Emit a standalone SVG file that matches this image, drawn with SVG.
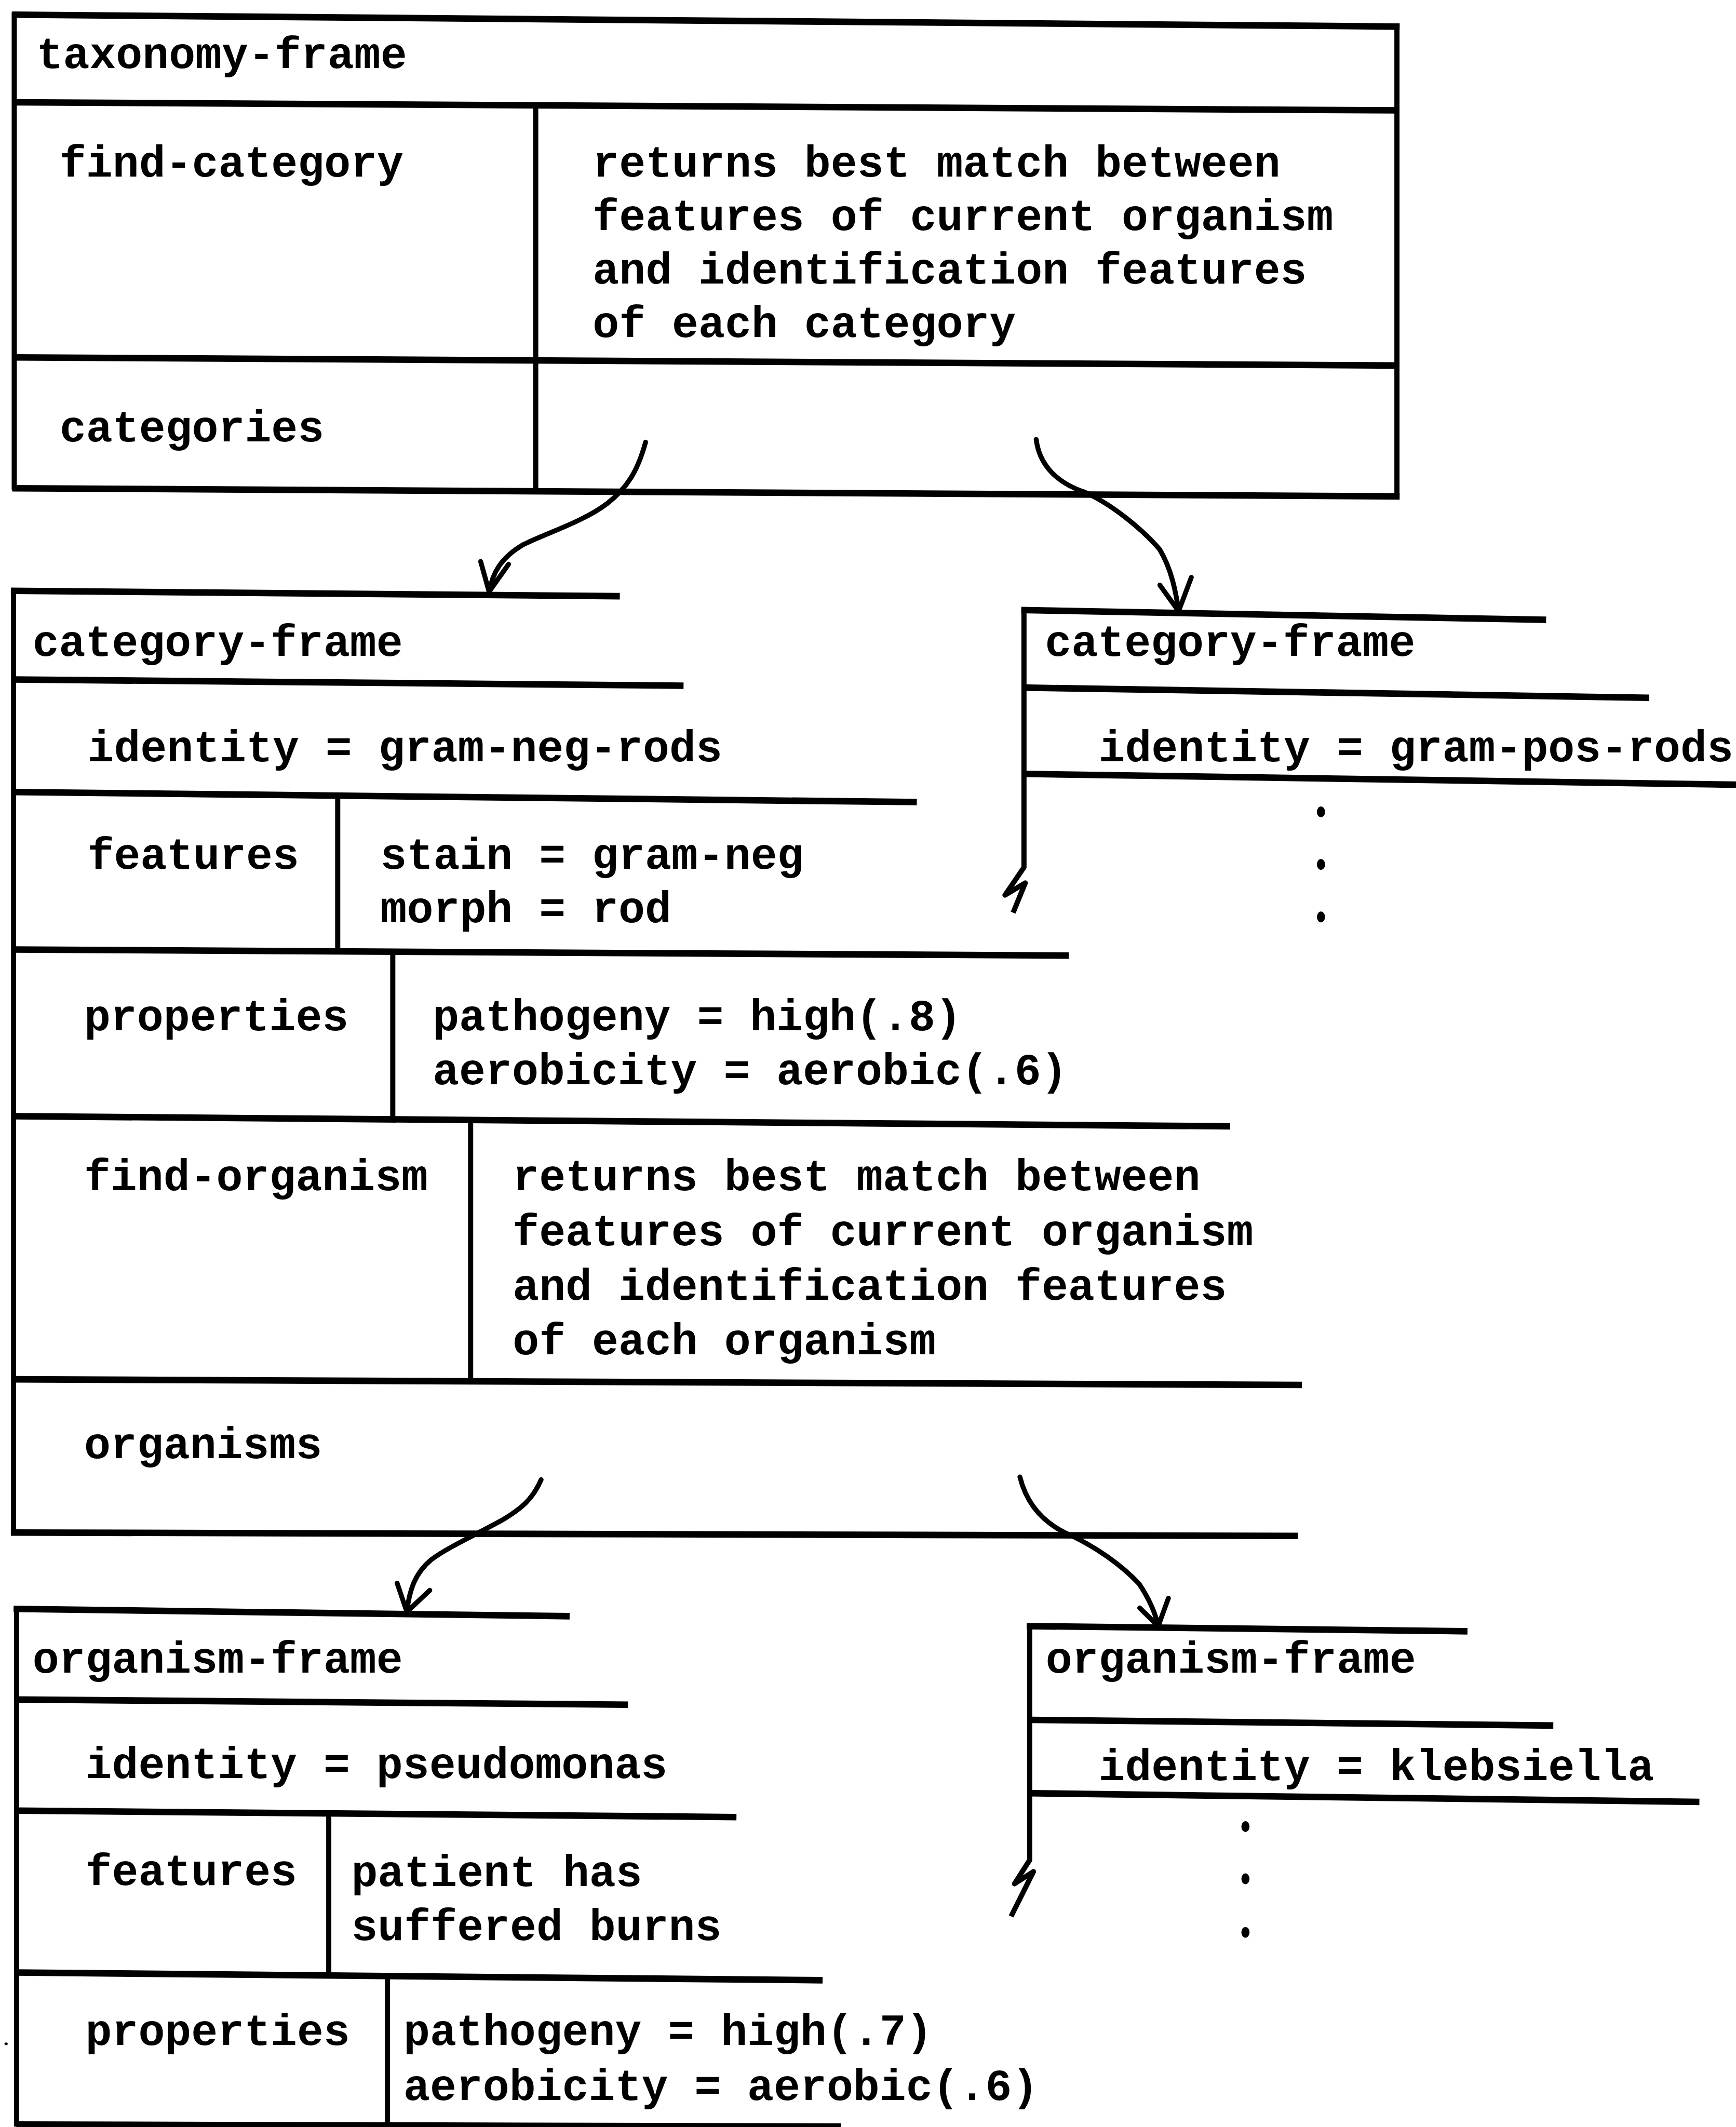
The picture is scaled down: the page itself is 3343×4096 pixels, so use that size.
<svg xmlns="http://www.w3.org/2000/svg" width="3343" height="4096" viewBox="0 0 3343 4096">
  <style>
    .h { fill: none; stroke: #000; stroke-width: 4.8; stroke-linecap: butt; }
    .v { fill: none; stroke: #000; stroke-width: 3.8; stroke-linecap: butt; stroke-linejoin: round; }
    .ar { fill: none; stroke: #000; stroke-width: 3.6; stroke-linecap: round; stroke-linejoin: round; }
    .t { font-family: "Liberation Mono", "Courier New", monospace; font-weight: bold; font-size: 32.5px; fill: #000; white-space: pre; }
    .dot { fill: #000; }
  </style>
  <rect width="3343" height="4096" fill="#fff"/>
  <!-- drawing units: 1 unit = 2.6117 px -->
  <g transform="scale(2.611719)">

    <!-- taxonomy frame -->
    <g id="taxonomy-frame">
      <path class="h" d="M9,10.8 L1032,19.6"/>
      <path class="v" d="M10.5,9 L10.5,361"/>
      <path class="v" d="M1030,17.5 L1030,367"/>
      <path class="h" d="M10,75.4 L1031,81.4"/>
      <path class="v" d="M395,78 L395,362"/>
      <path class="h" d="M10,263.5 L1031,269.5"/>
      <path class="h" d="M9,360 L1032,366"/>
      <text class="t" x="27" y="50.3">taxonomy-frame</text>
      <text class="t" x="44" y="130">find-category</text>
      <text class="t" x="437" y="130">returns best match between</text>
      <text class="t" x="437" y="169.5">features of current organism</text>
      <text class="t" x="437" y="209">and identification features</text>
      <text class="t" x="437" y="248.5">of each category</text>
      <text class="t" x="44" y="325.5">categories</text>
    </g>

    <!-- category frame: gram-neg-rods -->
    <g id="category-gram-neg">
      <path class="h" d="M8,435.6 L457,439.6"/>
      <path class="v" d="M10,434 L10,1131"/>
      <path class="h" d="M10,501 L504,505.6"/>
      <path class="h" d="M10,584 L676,591.4"/>
      <path class="v" d="M249,587 L249,702"/>
      <path class="h" d="M10,700.1 L788,704.6"/>
      <path class="v" d="M289.6,703 L289.6,827"/>
      <path class="h" d="M10,823 L907,830.5"/>
      <path class="v" d="M347,827 L347,1019"/>
      <path class="h" d="M10,1017 L960,1021.2"/>
      <path class="h" d="M8,1130 L957,1132.5"/>
      <text class="t" x="24" y="483.7">category-frame</text>
      <text class="t" x="64.5" y="561.2">identity = gram-neg-rods</text>
      <text class="t" x="64.5" y="640.6">features</text>
      <text class="t" x="280.5" y="640.6">stain = gram-neg</text>
      <text class="t" x="280.5" y="680.1">morph = rod</text>
      <text class="t" x="62" y="759.7">properties</text>
      <text class="t" x="319" y="759.7">pathogeny = high(.8)</text>
      <text class="t" x="319" y="799.3">aerobicity = aerobic(.6)</text>
      <text class="t" x="62" y="877.7">find-organism</text>
      <text class="t" x="378" y="877.7">returns best match between</text>
      <text class="t" x="378" y="918.1">features of current organism</text>
      <text class="t" x="378" y="958.5">and identification features</text>
      <text class="t" x="378" y="998.5">of each organism</text>
      <text class="t" x="62" y="1075.2">organisms</text>
    </g>

    <!-- category frame: gram-pos-rods (partial) -->
    <g id="category-gram-pos">
      <path class="h" d="M753,449.8 L1140,457"/>
      <path class="v" d="M755,449 L755,639.5 L741,660 L756,651 L747,673"/>
      <path class="h" d="M755,507 L1216,514.5"/>
      <path class="h" d="M755,570.6 L1280,578.6"/>
      <text class="t" x="770.5" y="483.7">category-frame</text>
      <text class="t" x="810" y="561.2">identity = gram-pos-rods</text>
      <ellipse class="dot" cx="974" cy="598.6" rx="3" ry="4"/>
      <ellipse class="dot" cx="974" cy="637.4" rx="3" ry="4"/>
      <ellipse class="dot" cx="974" cy="676.1" rx="3" ry="4"/>
    </g>

    <!-- organism frame: pseudomonas -->
    <g id="organism-pseudomonas">
      <path class="h" d="M10,1186.3 L420,1191.7"/>
      <path class="v" d="M12.2,1185 L12.2,1568"/>
      <path class="h" d="M12,1253.1 L463,1256.9"/>
      <path class="h" d="M12,1335 L543,1339.8"/>
      <path class="v" d="M242.4,1338 L242.4,1457"/>
      <path class="h" d="M12,1454.4 L606.5,1460.1"/>
      <path class="v" d="M285.7,1458 L285.7,1568"/>
      <path class="h" d="M12,1566.5 L620,1568"/>
      <ellipse class="dot" cx="4.5" cy="1507" rx="1.2" ry="1"/>
      <text class="t" x="24" y="1233.1">organism-frame</text>
      <text class="t" x="63" y="1311.1">identity = pseudomonas</text>
      <text class="t" x="63" y="1390">features</text>
      <text class="t" x="259" y="1390.5">patient has</text>
      <text class="t" x="259" y="1430.5">suffered burns</text>
      <text class="t" x="63" y="1508">properties</text>
      <text class="t" x="297.5" y="1508">pathogeny = high(.7)</text>
      <text class="t" x="297.5" y="1548.3">aerobicity = aerobic(.6)</text>
    </g>

    <!-- organism frame: klebsiella (partial) -->
    <g id="organism-klebsiella">
      <path class="h" d="M757,1199 L1082,1202.8"/>
      <path class="v" d="M759.2,1198 L759.2,1371.5 L748,1389 L762,1380 L745.5,1413"/>
      <path class="h" d="M759,1268.1 L1145.3,1272.3"/>
      <path class="h" d="M759,1322.2 L1253,1328.6"/>
      <text class="t" x="771" y="1233.1">organism-frame</text>
      <text class="t" x="810" y="1312.5">identity = klebsiella</text>
      <ellipse class="dot" cx="918.3" cy="1346.8" rx="3" ry="4"/>
      <ellipse class="dot" cx="918.3" cy="1385.3" rx="3" ry="4"/>
      <ellipse class="dot" cx="918.3" cy="1424.8" rx="3" ry="4"/>
    </g>

    <!-- slot pointers -->
    <g id="connectors">
      <path class="ar" d="M476,326 C470,348 462,360 448,371 C430,385 400,394 385,402 C370,411 363,422 361,436"/>
      <path class="ar" d="M354.4,414 L360.6,436.3 L375,416"/>
      <path class="ar" d="M764,324 C766,340 776,355 800,363 C820,372 842,390 855,405 C864,420 867,437 869,450"/>
      <path class="ar" d="M855.2,431.4 L869,450.7 L878.4,425.7"/>
      <path class="ar" d="M399,1091 C393,1105 385,1112 370,1121 C350,1132 330,1141 318,1150 C306,1160 302,1172 300,1188"/>
      <path class="ar" d="M292.8,1167.3 L300,1188.5 L316.9,1172.6"/>
      <path class="ar" d="M752,1089 C756,1105 765,1120 785,1130 C808,1140 828,1155 840,1168 C848,1180 852,1190 854,1199"/>
      <path class="ar" d="M840.3,1185.6 L854,1199 L861.5,1178.4"/>
    </g>
  </g>
</svg>
